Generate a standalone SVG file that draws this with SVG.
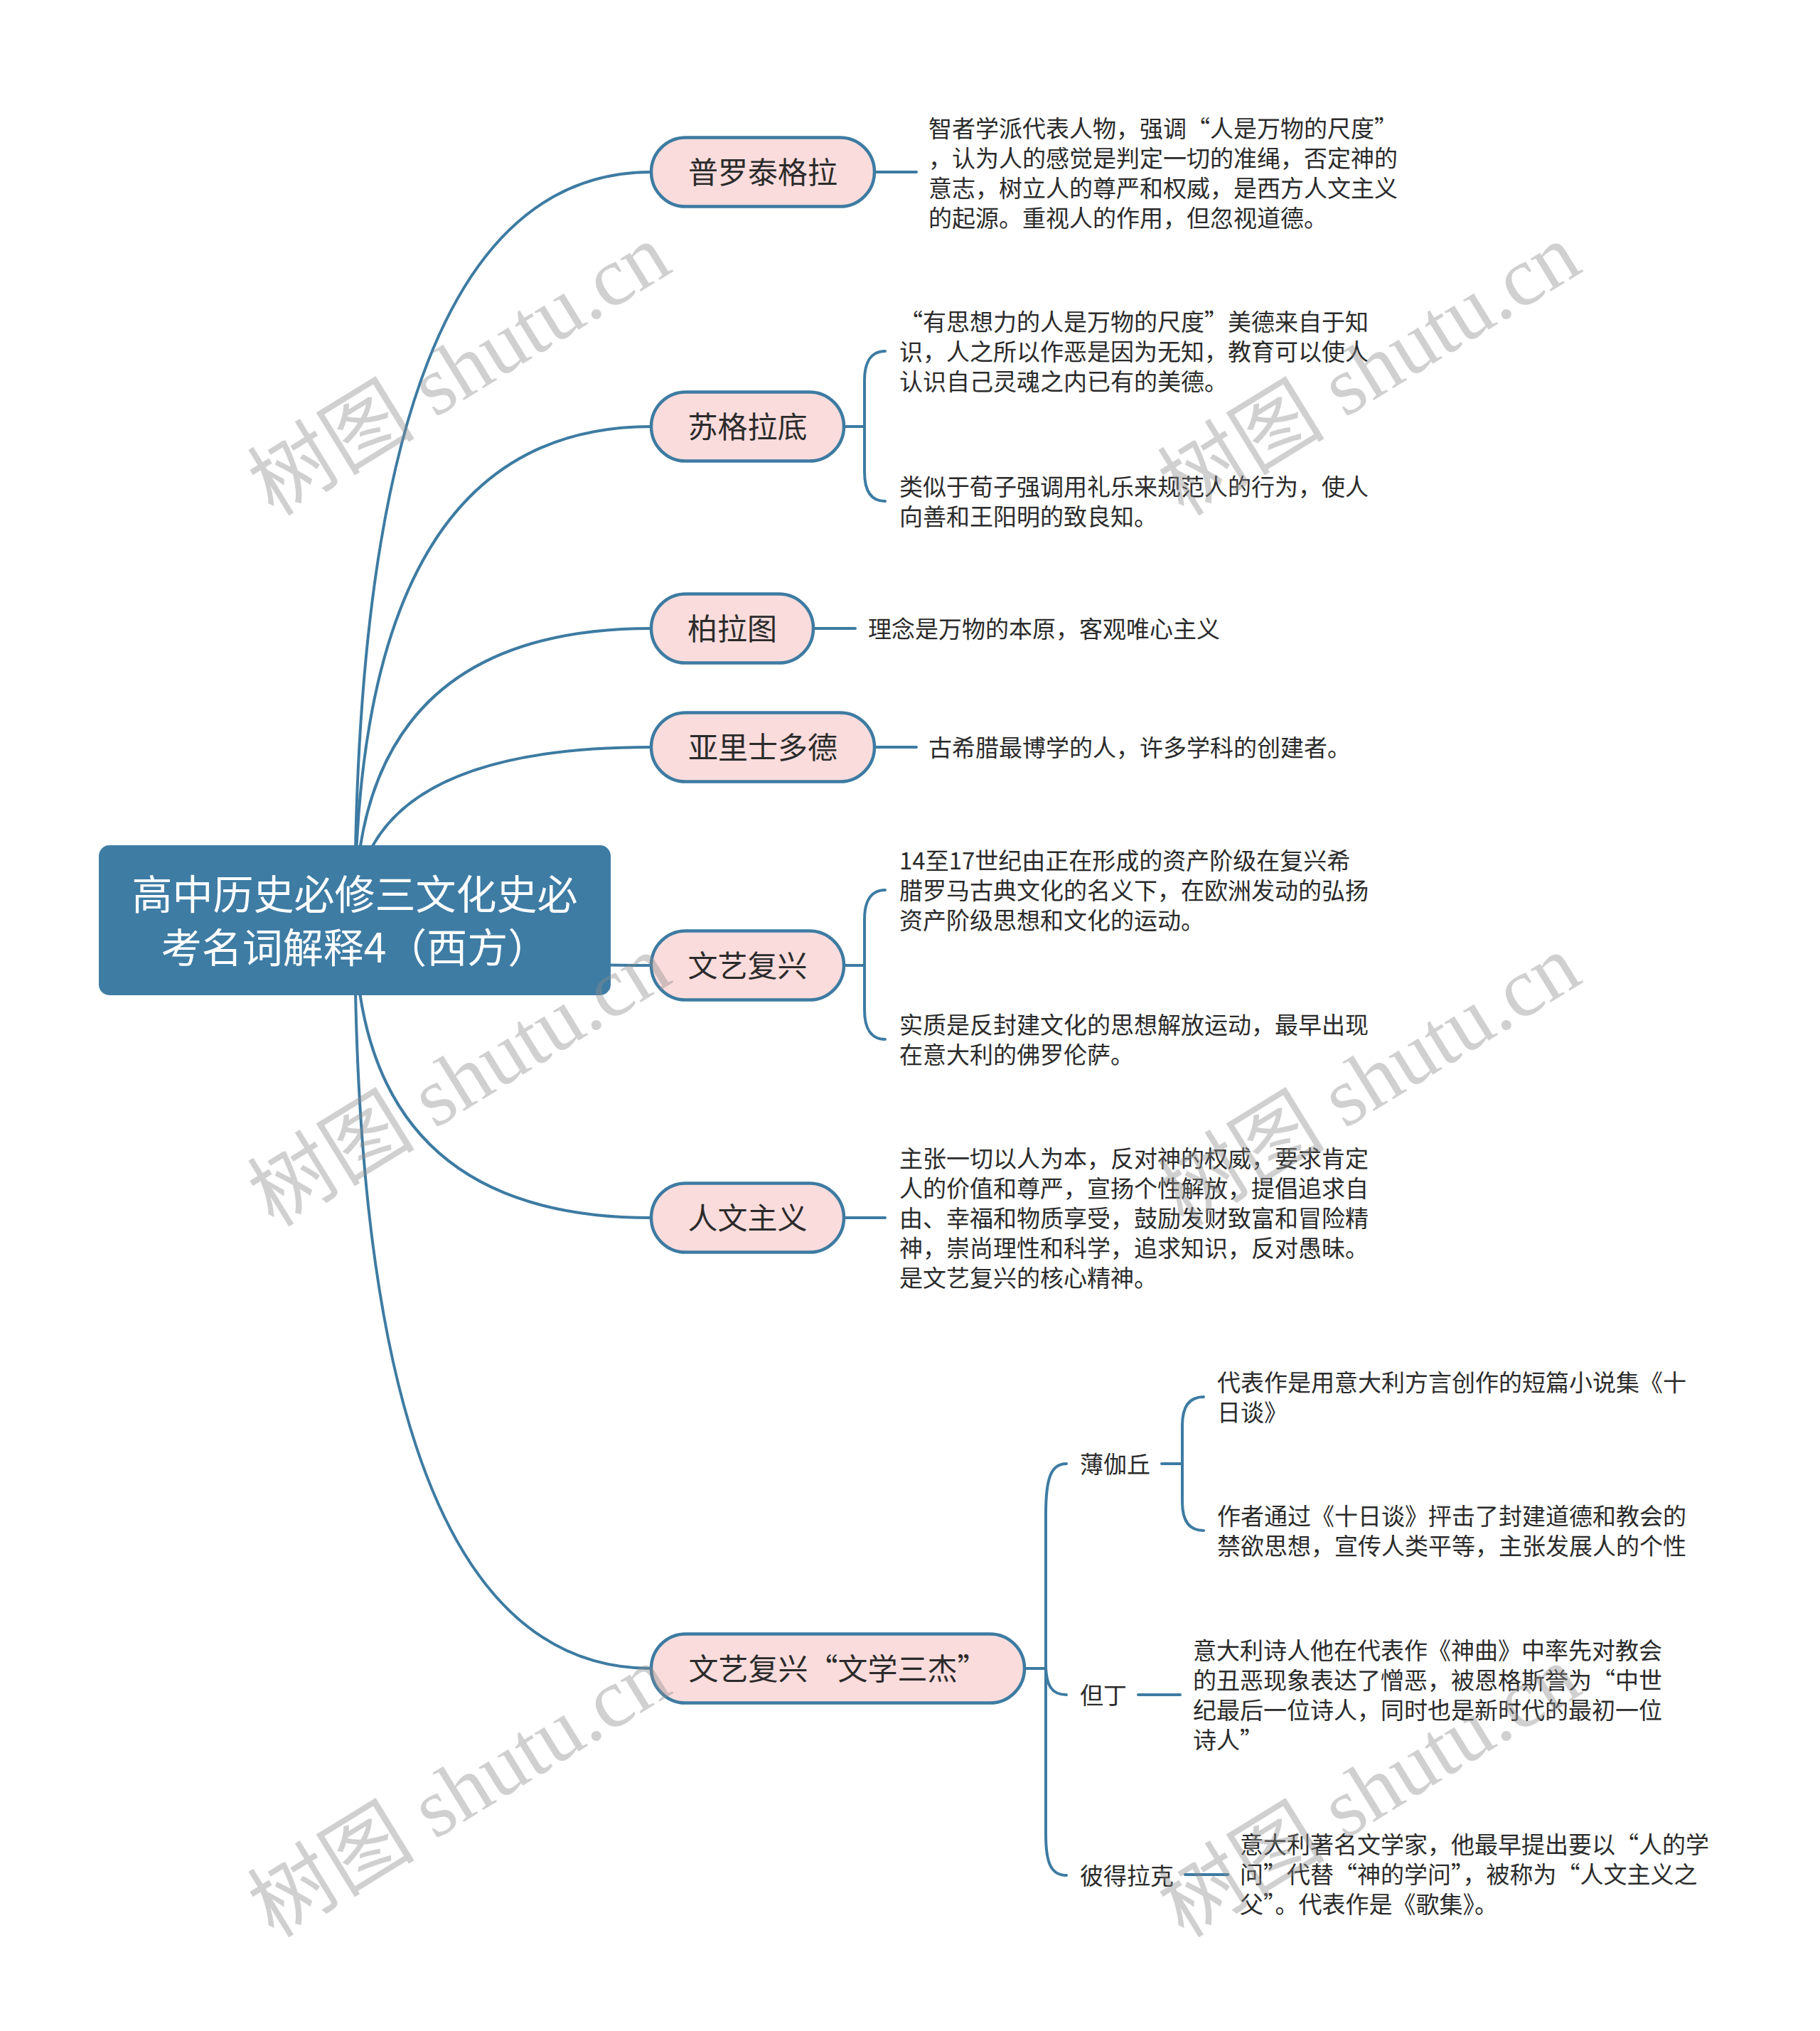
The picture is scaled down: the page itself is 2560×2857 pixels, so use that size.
<svg xmlns="http://www.w3.org/2000/svg" width="2560" height="2857" viewBox="0 0 2560 2857">
<style>
.bg{fill:#ffffff}
.ln{fill:none;stroke:#3d7ba2;stroke-width:4;stroke-linecap:round}
.root{fill:#3e7ca4}
.rt{font-family:"Noto Sans CJK SC","Noto Sans",sans-serif;font-size:57px;fill:#ffffff;text-anchor:middle}
.pill{fill:#fbdcdc;stroke:#3d7ba2;stroke-width:4.5}
.nt{font-family:"Noto Sans CJK SC","Noto Sans",sans-serif;font-size:42px;fill:#2b2b2b;text-anchor:middle}
.lt{font-family:"Noto Sans CJK SC","Noto Sans",sans-serif;font-size:33px;fill:#2b2b2b}
.wm{font-family:"Liberation Serif","Noto Sans CJK SC",serif;font-size:118px;fill:#8c8c8c;opacity:0.4;text-anchor:middle}
</style>
<rect class="bg" x="0" y="0" width="2560" height="2857"/>
<g id="connectors">
<path class="ln" d="M499 1295 Q499 242 916 242"/>
<path class="ln" d="M499 1295 Q499 600 916 600"/>
<path class="ln" d="M499 1295 Q499 884 916 884"/>
<path class="ln" d="M499 1295 Q499 1051 916 1051"/>
<path class="ln" d="M499 1295 Q499 1358 916 1358"/>
<path class="ln" d="M499 1295 Q499 1713 916 1713"/>
<path class="ln" d="M499 1295 Q499 2347 916 2347"/>
<path class="ln" d="M1230 242 H1289"/>
<path class="ln" d="M1187 600 H1216"/>
<path class="ln" d="M1245 494 C1225 494 1216 510 1216 535 V664 C1216 690 1225 705 1245 705"/>
<path class="ln" d="M1144 884 H1203"/>
<path class="ln" d="M1230 1051 H1289"/>
<path class="ln" d="M1187 1358 H1216"/>
<path class="ln" d="M1245 1252 C1225 1252 1216 1268 1216 1293 V1421 C1216 1446 1225 1462 1245 1462"/>
<path class="ln" d="M1187 1713 H1245"/>
<path class="ln" d="M1441 2347 H1471"/>
<path class="ln" d="M1500 2059 C1478 2059 1471 2080 1471 2130 V2580 C1471 2620 1478 2638 1500 2638"/>
<path class="ln" d="M1471 2340 C1471 2372 1480 2384 1500 2384"/>
<path class="ln" d="M1634 2059 H1663"/>
<path class="ln" d="M1693 1965 C1672 1965 1663 1980 1663 2005 V2113 C1663 2138 1672 2153 1693 2153"/>
<path class="ln" d="M1601 2384 H1660"/>
<path class="ln" d="M1667 2637 H1727"/>
</g>
<g id="root">
<rect class="root" x="139" y="1189" width="720" height="211" rx="15"/>
<text class="rt" x="499" y="1279">高中历史必修三文化史必</text>
<text class="rt" x="499" y="1354">考名词解释4（西方）</text>
</g>
<g id="n-protagoras">
<rect class="pill" x="916" y="193.5" width="314" height="97" rx="48.5"/>
<text class="nt" x="1073" y="258">普罗泰格拉</text>
</g>
<g id="l-protagoras">
<text class="lt" x="1306" y="192.5">智者学派代表人物，强调“人是万物的尺度”</text>
<text class="lt" x="1306" y="234.5">，认为人的感觉是判定一切的准绳，否定神的</text>
<text class="lt" x="1306" y="276.5">意志，树立人的尊严和权威，是西方人文主义</text>
<text class="lt" x="1306" y="318.5">的起源。重视人的作用，但忽视道德。</text>
</g>
<g id="n-socrates">
<rect class="pill" x="916" y="551.5" width="271" height="97" rx="48.5"/>
<text class="nt" x="1051.5" y="616">苏格拉底</text>
</g>
<g id="l-socrates-1">
<text class="lt" x="1265" y="464.5">“有思想力的人是万物的尺度”美德来自于知</text>
<text class="lt" x="1265" y="506.5">识，人之所以作恶是因为无知，教育可以使人</text>
<text class="lt" x="1265" y="548.5">认识自己灵魂之内已有的美德。</text>
</g>
<g id="l-socrates-2">
<text class="lt" x="1265" y="696.5">类似于荀子强调用礼乐来规范人的行为，使人</text>
<text class="lt" x="1265" y="738.5">向善和王阳明的致良知。</text>
</g>
<g id="n-plato">
<rect class="pill" x="916" y="835.5" width="228" height="97" rx="48.5"/>
<text class="nt" x="1030" y="900">柏拉图</text>
</g>
<g id="l-plato">
<text class="lt" x="1221" y="896.5">理念是万物的本原，客观唯心主义</text>
</g>
<g id="n-aristotle">
<rect class="pill" x="916" y="1002.5" width="314" height="97" rx="48.5"/>
<text class="nt" x="1073" y="1067">亚里士多德</text>
</g>
<g id="l-aristotle">
<text class="lt" x="1306" y="1063.5">古希腊最博学的人，许多学科的创建者。</text>
</g>
<g id="n-renaissance">
<rect class="pill" x="916" y="1309.5" width="271" height="97" rx="48.5"/>
<text class="nt" x="1051.5" y="1374">文艺复兴</text>
</g>
<g id="l-renaissance-1">
<text class="lt" x="1265" y="1222.5">14至17世纪由正在形成的资产阶级在复兴希</text>
<text class="lt" x="1265" y="1264.5">腊罗马古典文化的名义下，在欧洲发动的弘扬</text>
<text class="lt" x="1265" y="1306.5">资产阶级思想和文化的运动。</text>
</g>
<g id="l-renaissance-2">
<text class="lt" x="1265" y="1453.5">实质是反封建文化的思想解放运动，最早出现</text>
<text class="lt" x="1265" y="1495.5">在意大利的佛罗伦萨。</text>
</g>
<g id="n-humanism">
<rect class="pill" x="916" y="1664.5" width="271" height="97" rx="48.5"/>
<text class="nt" x="1051.5" y="1729">人文主义</text>
</g>
<g id="l-humanism">
<text class="lt" x="1265" y="1641.5">主张一切以人为本，反对神的权威，要求肯定</text>
<text class="lt" x="1265" y="1683.5">人的价值和尊严，宣扬个性解放，提倡追求自</text>
<text class="lt" x="1265" y="1725.5">由、幸福和物质享受，鼓励发财致富和冒险精</text>
<text class="lt" x="1265" y="1767.5">神，崇尚理性和科学，追求知识，反对愚昧。</text>
<text class="lt" x="1265" y="1809.5">是文艺复兴的核心精神。</text>
</g>
<g id="n-three">
<rect class="pill" x="916" y="2298.5" width="525" height="97" rx="48.5"/>
<text class="nt" x="1178.5" y="2363">文艺复兴“文学三杰”</text>
</g>
<g id="n-boccaccio">
<text class="lt" x="1519" y="2071.5">薄伽丘</text>
</g>
<g id="l-boccaccio-1">
<text class="lt" x="1712" y="1956.5">代表作是用意大利方言创作的短篇小说集《十</text>
<text class="lt" x="1712" y="1998.5">日谈》</text>
</g>
<g id="l-boccaccio-2">
<text class="lt" x="1712" y="2144.5">作者通过《十日谈》抨击了封建道德和教会的</text>
<text class="lt" x="1712" y="2186.5">禁欲思想，宣传人类平等，主张发展人的个性</text>
</g>
<g id="n-dante">
<text class="lt" x="1519" y="2396.5">但丁</text>
</g>
<g id="l-dante">
<text class="lt" x="1678" y="2333.5">意大利诗人他在代表作《神曲》中率先对教会</text>
<text class="lt" x="1678" y="2375.5">的丑恶现象表达了憎恶，被恩格斯誉为“中世</text>
<text class="lt" x="1678" y="2417.5">纪最后一位诗人，同时也是新时代的最初一位</text>
<text class="lt" x="1678" y="2459.5">诗人”</text>
</g>
<g id="n-petrarch">
<text class="lt" x="1519" y="2650.5">彼得拉克</text>
</g>
<g id="l-petrarch">
<text class="lt" x="1744" y="2606.5">意大利著名文学家，他最早提出要以“人的学</text>
<text class="lt" x="1744" y="2648.5">问”代替“神的学问”，被称为“人文主义之</text>
<text class="lt" x="1744" y="2690.5">父”。代表作是《歌集》。</text>
</g>
<g id="watermarks">
<text class="wm" transform="translate(667 554) rotate(-31.6)">树图 shutu.cn</text>
<text class="wm" transform="translate(1947 554) rotate(-31.6)">树图 shutu.cn</text>
<text class="wm" transform="translate(667 1554) rotate(-31.6)">树图 shutu.cn</text>
<text class="wm" transform="translate(1947 1554) rotate(-31.6)">树图 shutu.cn</text>
<text class="wm" transform="translate(667 2554) rotate(-31.6)">树图 shutu.cn</text>
<text class="wm" transform="translate(1947 2554) rotate(-31.6)">树图 shutu.cn</text>
</g>
</svg>
